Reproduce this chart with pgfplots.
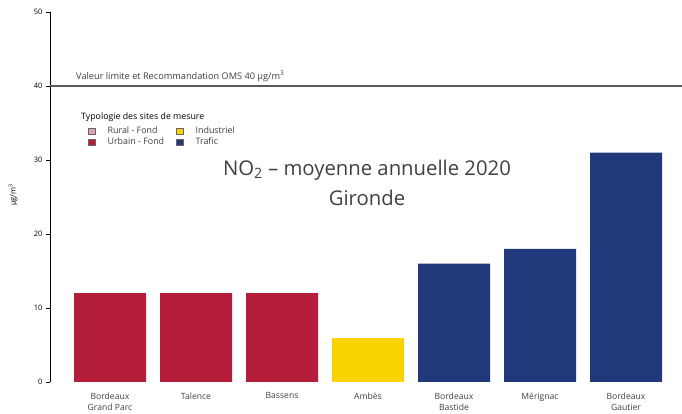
\documentclass[border=0pt]{standalone}
\usepackage{fontspec}
\setmainfont{Open Sans}
\usepackage{pgfplots}
\pgfplotsset{compat=1.18}
\definecolor{urbain}{RGB}{180,30,58}
\definecolor{indus}{RGB}{249,211,0}
\definecolor{trafic}{RGB}{33,56,122}
\definecolor{rural}{RGB}{217,163,173}
\definecolor{txt}{RGB}{64,64,64}
\definecolor{refl}{RGB}{90,90,90}
\begin{document}
\begin{tikzpicture}
\useasboundingbox (-50pt,-32pt) rectangle (632pt,382pt);
\begin{axis}[
  scale only axis,
  width=632pt, height=370pt,
  xmin=-0.6977, xmax=6.651,
  ymin=0, ymax=50,
  ytick={0,10,20,30,40,50},
  xtick={0,1,2,3,4,5,6},
  xticklabels={{Bordeaux\\Grand Parc},Talence,Bassens,Ambès,{Bordeaux\\Bastide},Mérignac,{Bordeaux\\Gautier}},
  xticklabel style={align=center, font=\fontsize{8.6}{11}\selectfont, text=txt, yshift=-3pt},
  yticklabel style={font=\fontsize{7.5}{8}\selectfont, text=black},
  /pgf/number format/assume math mode=true,
  axis x line*=bottom,
  axis y line*=left,
  x axis line style={draw=none},
  major x tick style={draw=none},
  y axis line style={draw=black, line width=0.6pt},
  major y tick style={draw=black, line width=0.6pt},
  tick align=outside,
  major tick length=4pt,
  ybar, bar width=72pt, bar shift=0pt,
  clip=false,
  ylabel={µg/m\textsuperscript{3}},
  ylabel style={font=\fontsize{7.5}{8}\selectfont, at={(-37pt,187pt)}, anchor=center},
  legend columns=2,
  legend cell align=left,
  legend style={draw=none, fill=none, at={(35pt,259pt)}, anchor=north west,
    font=\fontsize{8.9}{10}\selectfont, text=txt,
    /tikz/every even column/.append style={column sep=10pt},
    row sep=-1.5pt},
  legend image code/.code={\draw[#1, draw=black!60] (0pt,-3.3pt) rectangle (6.6pt,3.3pt); \path (17pt,0pt);},
]
\addlegendimage{fill=rural}
\addlegendentry{Rural - Fond}
\addlegendimage{fill=indus}
\addlegendentry{Industriel}
\addlegendimage{fill=urbain}
\addlegendentry{Urbain - Fond}
\addlegendimage{fill=trafic}
\addlegendentry{Trafic}
\addplot[fill=urbain, draw=none, forget plot] coordinates {(0,12) (1,12) (2,12)};
\addplot[fill=indus, draw=none, forget plot] coordinates {(3,6)};
\addplot[fill=trafic, draw=none, forget plot] coordinates {(4,16) (5,18) (6,31)};
\draw[refl, line width=1.3pt] (axis cs:-0.6977,40) -- (axis cs:6.651,40);
\node[anchor=south west, inner sep=0pt, font=\fontsize{9.2}{10}\selectfont, text=txt] at (axis cs:-0.395,40.6) {Valeur limite et Recommandation OMS 40 µg/m\textsuperscript{3}};
\node[anchor=west, inner sep=0pt, font=\fontsize{8.8}{10}\selectfont, text=black] at (31pt,265pt) {Typologie des sites de mesure};
\node[align=center, font=\fontsize{20.3}{30}\selectfont, text=txt] at (317pt,199pt) {NO\textsubscript{2} – moyenne annuelle 2020\\Gironde};
\end{axis}
\end{tikzpicture}
\end{document}
